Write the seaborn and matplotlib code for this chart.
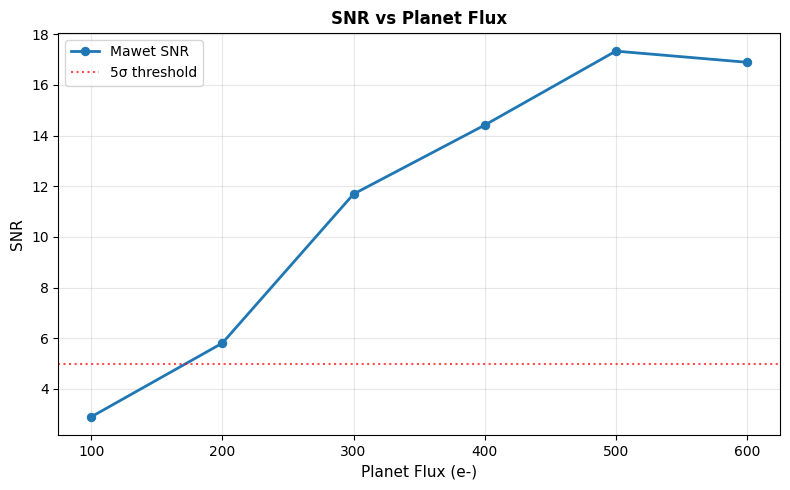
import matplotlib
matplotlib.use("Agg")
import matplotlib.pyplot as plt
import seaborn as sns
import pandas as pd

planet_flux = [100, 200, 300, 400, 500, 600]
snr_values = [2.90, 5.81, 11.69, 14.41, 17.33, 16.89]
threshold = 5

df = pd.DataFrame({"flux": planet_flux, "snr": snr_values})

fig, ax = plt.subplots(figsize=(7.9, 4.9), dpi=100)
sns.lineplot(data=df, x="flux", y="snr", marker="o", markersize=6, linewidth=2,
             color="#1f77b4", markeredgecolor="#1f77b4", label="Mawet SNR", ax=ax)
ax.axhline(threshold, color="red", linestyle=":", linewidth=1.5, alpha=0.7, label="5σ threshold")

ax.set_xlabel("Planet Flux (e-)", fontsize=11)
ax.set_ylabel("SNR", fontsize=11)
ax.set_title("SNR vs Planet Flux", fontsize=12, fontweight="bold")
ax.grid(True, alpha=0.3)
ax.legend(loc="upper left")

fig.subplots_adjust(left=0.074, right=0.987, top=0.933, bottom=0.112)
fig.savefig("out.png", dpi=100)
